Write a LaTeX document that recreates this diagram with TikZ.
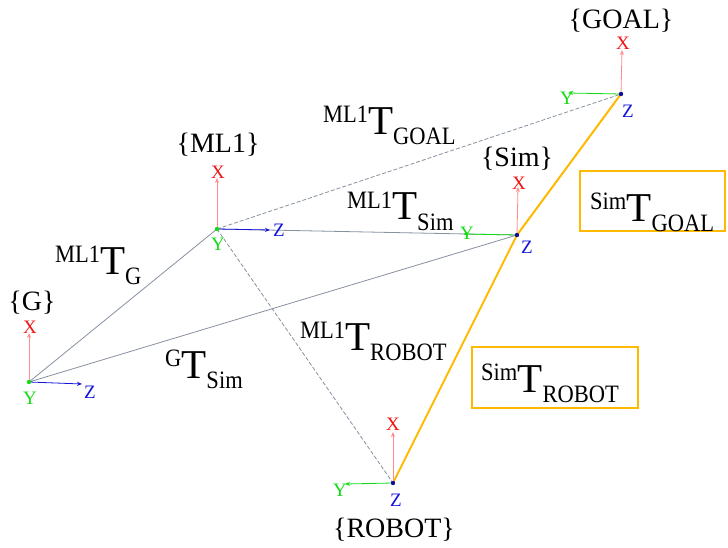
\documentclass[tikz,border=0pt]{standalone}
\usepackage{fontspec}
\setmainfont{Liberation Serif}
\newfontfamily\narrowserif[FakeStretch=0.9]{Liberation Serif}
\usetikzlibrary{arrows.meta}
\definecolor{xred}{RGB}{240,20,20}
\definecolor{xline}{RGB}{255,140,140}
\definecolor{ygreen}{RGB}{20,220,20}
\definecolor{zblue}{RGB}{20,20,220}
\definecolor{lgray}{RGB}{135,145,160}
\definecolor{gold}{RGB}{255,185,0}
\newcommand\tfm[2]{\raisebox{12pt}{\narrowserif\fontsize{25}{25}\selectfont #1}{\fontsize{41}{41}\selectfont T}\raisebox{-10pt}{\narrowserif\fontsize{25}{25}\selectfont #2}}
\tikzset{
  axx/.style={draw=xline,line width=0.8pt,-{Stealth[length=5pt,width=4pt]}},
  axy/.style={draw=ygreen,line width=0.8pt,-{Stealth[length=5pt,width=4pt]}},
  axz/.style={draw=zblue,line width=0.8pt,-{Stealth[length=5pt,width=4pt]}},
  lx/.style={text=xred,font=\fontsize{19}{19}\selectfont,inner sep=0pt},
  ly/.style={text=ygreen,font=\fontsize{19}{19}\selectfont,inner sep=0pt},
  lz/.style={text=zblue,font=\fontsize{19}{19}\selectfont,inner sep=0pt},
  frame/.style={font=\fontsize{28}{28}\selectfont,inner sep=0pt,anchor=base},
  tlabel/.style={inner sep=0pt,anchor=base west},
  link/.style={draw=lgray,line width=0.8pt},
  dlink/.style={draw=lgray,line width=0.8pt,dash pattern=on 4pt off 2pt},
  olink/.style={draw=gold,line width=2pt},
  obox/.style={draw=gold,line width=2.6pt},
}
\begin{document}
\begin{tikzpicture}[x=1pt,y=-1pt]
\useasboundingbox[fill=white] (0,0) rectangle (728,548);
% origins
\coordinate (G) at (29,382);
\coordinate (ML) at (217,229);
\coordinate (S) at (517,235);
\coordinate (GO) at (621,94);
\coordinate (R) at (393,483);
% axis tips
\coordinate (Gx) at (29,333);
\coordinate (Gz) at (82,384);
\coordinate (MLx) at (217,178);
\coordinate (MLz) at (270,230);
\coordinate (Sx) at (518,187);
\coordinate (Sy) at (463,234);
\coordinate (GOx) at (622,50);
\coordinate (GOy) at (568,93);
\coordinate (Rx) at (393,432);
\coordinate (Ry) at (345,484);
% links
\draw[link] (G) -- (ML);
\draw[link] (G) -- (S);
\draw[link] (ML) -- (S);
\draw[dlink] (ML) -- (GO);
\draw[dlink] (ML) -- (R);
\draw[olink] (R) -- (S);
\draw[olink] (S) -- (GO);
% axes
\draw[axx] (G) -- (Gx);
\draw[axz] (G) -- (Gz);
\draw[axx] (ML) -- (MLx);
\draw[axz] (ML) -- (MLz);
\draw[axx] (S) -- (Sx);
\draw[axy] (S) -- (Sy);
\draw[axx] (GO) -- (GOx);
\draw[axy] (GO) -- (GOy);
\draw[axx] (R) -- (Rx);
\draw[axy] (R) -- (Ry);
% origin dots
\fill[ygreen] (G) circle (2.2pt);
\fill[ygreen] (ML) circle (2.2pt);
\fill[zblue!70!black] (S) circle (2.2pt);
\fill[zblue!70!black] (GO) circle (2.2pt);
\fill[zblue!70!black] (R) circle (2.2pt);
% axis labels
\node[lx] (Gxl) at (30,327) {X};
\node[lz] (Gzl) at (90,392) {Z};
\node[ly] (Gyl) at (30,398) {Y};
\node[lx] (MLxl) at (218,172) {X};
\node[lz] (MLzl) at (279,230) {Z};
\node[ly] (MLyl) at (218,244) {Y};
\node[lx] (Sxl) at (519,183) {X};
\node[ly] (Syl) at (467,233) {Y};
\node[lz] (Szl) at (527,247) {Z};
\node[lx] (GOxl) at (623,43) {X};
\node[ly] (GOyl) at (567,98) {Y};
\node[lz] (GOzl) at (628,111) {Z};
\node[lx] (Rxl) at (393,424) {X};
\node[ly] (Ryl) at (340,490) {Y};
\node[lz] (Rzl) at (396,500) {Z};
% frame names
\node[frame] (nG) at (32,310) {\{G\}};
\node[frame] (nML) at (218,153) {\{ML1\}};
\node[frame] (nS) at (517,167) {\{Sim\}};
\node[frame] (nGO) at (621,29) {\{GOAL\}};
\node[frame] (nR) at (394,537) {\{ROBOT\}};
% transform labels
\node[tlabel] (tMG) at (323,135) {\tfm{ML1}{GOAL}};
\node[tlabel] (tMS) at (347,220) {\tfm{ML1}{Sim}};
\node[tlabel] (tMGr) at (55,274) {\tfm{ML1}{G}};
\node[tlabel] (tGS) at (165,378) {\tfm{G}{Sim}};
\node[tlabel] (tMR) at (300,350) {\tfm{ML1}{ROBOT}};
% boxes
\draw[obox] (580,171) rectangle (725,231);
\node[tlabel] (tSG) at (590,222) {\tfm{Sim}{GOAL}};
\draw[obox] (472,347) rectangle (638,408);
\node[tlabel] (tSR) at (481,392) {\tfm{Sim}{ROBOT}};
\end{tikzpicture}
\end{document}
